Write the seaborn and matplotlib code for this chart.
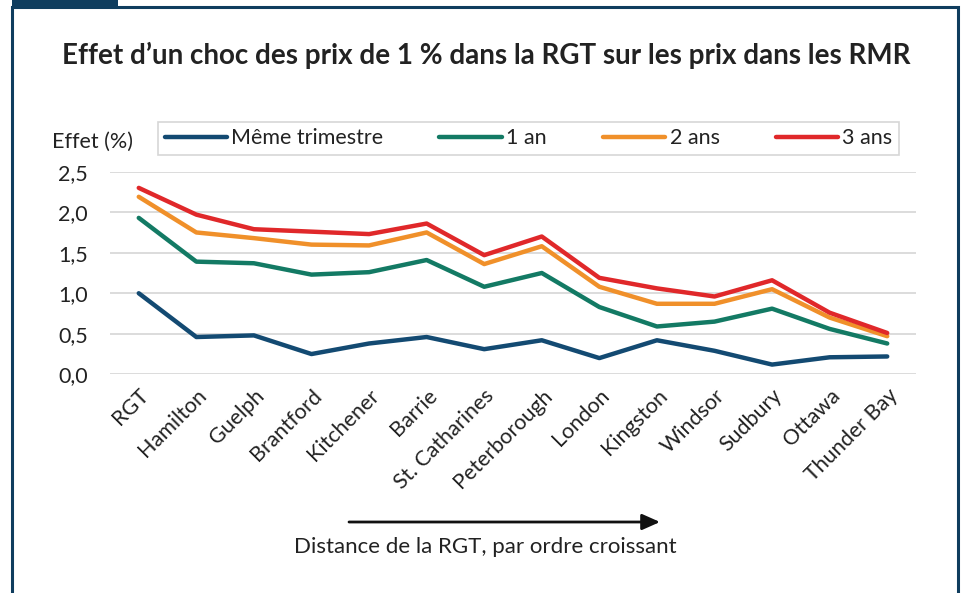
import pandas as pd
import matplotlib.pyplot as plt
import seaborn as sns
from matplotlib.patches import Rectangle

sns.set_theme(style="white")
plt.rcParams['font.family'] = ['Lato', 'DejaVu Sans']

# Données
villes = ['RGT', 'Hamilton', 'Guelph', 'Brantford', 'Kitchener', 'Barrie',
          'St. Catharines', 'Peterborough', 'London', 'Kingston', 'Windsor',
          'Sudbury', 'Ottawa', 'Thunder Bay']
meme_trimestre = [1.00, 0.46, 0.48, 0.25, 0.38, 0.46, 0.31, 0.42, 0.20, 0.42, 0.29, 0.12, 0.21, 0.22]
un_an = [1.93, 1.39, 1.37, 1.23, 1.26, 1.41, 1.08, 1.25, 0.83, 0.59, 0.65, 0.81, 0.56, 0.38]
deux_ans = [2.19, 1.75, 1.68, 1.60, 1.59, 1.75, 1.36, 1.58, 1.08, 0.87, 0.87, 1.05, 0.70, 0.47]
trois_ans = [2.30, 1.97, 1.79, 1.76, 1.73, 1.86, 1.47, 1.70, 1.19, 1.06, 0.96, 1.16, 0.76, 0.51]

series = ['Même trimestre', '1 an', '2 ans', '3 ans']
cores = ['#134a72', '#137a64', '#f0902a', '#e0282a']

frames = []
for nom, vals in zip(series, [meme_trimestre, un_an, deux_ans, trois_ans]):
    frames.append(pd.DataFrame({'pos': range(len(villes)), 'effet': vals, 'serie': nom}))
dados = pd.concat(frames, ignore_index=True)

fs = 15.5
texto = '#222222'

fig = plt.figure(figsize=(9.63, 5.93), dpi=100)
ax = fig.add_axes([0.1142, 0.3688, 0.8370, 0.3417])

sns.lineplot(data=dados, x='pos', y='effet', hue='serie', hue_order=series,
             palette=cores, linewidth=3.2, ax=ax, legend=False,
             solid_capstyle='round')

ax.set_xlim(-0.5, 13.5)
ax.set_ylim(0, 2.5)
ax.set_yticks([0, 0.5, 1.0, 1.5, 2.0, 2.5])
ax.set_yticklabels(['0,0', '0,5', '1,0', '1,5', '2,0', '2,5'], fontsize=fs, color=texto)
ax.set_xticks(range(len(villes)))
ax.set_xticklabels(villes, rotation=45, ha='right', va='top', rotation_mode='anchor',
                   fontsize=fs, color=texto)
ax.tick_params(axis='y', length=0, pad=16)
ax.tick_params(axis='x', length=0, pad=8)
ax.grid(axis='y', color='#d9d9d9', linewidth=1.3)
ax.grid(axis='x', visible=False)
for s in ax.spines.values():
    s.set_visible(False)
ax.set_xlabel('')
ax.set_ylabel('')

# Légende
handles = [plt.Line2D([], [], color=c, linewidth=3.2, solid_capstyle='round') for c in cores]
leg = fig.legend(handles, series, loc='center', bbox_to_anchor=(0.5488, 0.7665), ncol=4,
                 fontsize=fs, frameon=True, fancybox=False, handlelength=2.9,
                 handletextpad=0.2, columnspacing=2.6, borderpad=0.3, borderaxespad=0)
leg.get_frame().set_edgecolor('#cccccc')
leg.get_frame().set_linewidth(1.2)
for t in leg.get_texts():
    t.set_color(texto)

fig.text(0.054, 0.760, 'Effet (%)', fontsize=fs, color=texto, va='center')
fig.text(0.505, 0.907, 'Effet d\u2019un choc des prix de 1 % dans la RGT sur les prix dans les RMR',
         fontsize=20, fontweight='bold', ha='center', va='center', color=texto)

# Flèche de distance
fig.add_artist(plt.Annotation('', xy=(660 / 963, 1 - 522 / 593), xytext=(349 / 963, 1 - 522 / 593),
                              xycoords='figure fraction', textcoords='figure fraction',
                              arrowprops=dict(arrowstyle='-|>,head_length=0.9,head_width=0.4',
                                              color='#111111', linewidth=2, shrinkA=0, shrinkB=0)))
fig.text(485 / 963, 1 - 547 / 593, 'Distance de la RGT, par ordre croissant', fontsize=16,
         ha='center', va='center', color=texto)

# Cadre
navy = '#0f3d5e'
fig.add_artist(Rectangle((12 / 963, -0.05), (958 - 12) / 963, 1 - 7 / 593 + 0.05,
                         transform=fig.transFigure, fill=False, edgecolor=navy, linewidth=2.2))
fig.add_artist(Rectangle((12 / 963, 1 - 7 / 593), 106 / 963, 7 / 593,
                         transform=fig.transFigure, facecolor=navy, edgecolor='none'))

plt.savefig('out.png', dpi=100)
